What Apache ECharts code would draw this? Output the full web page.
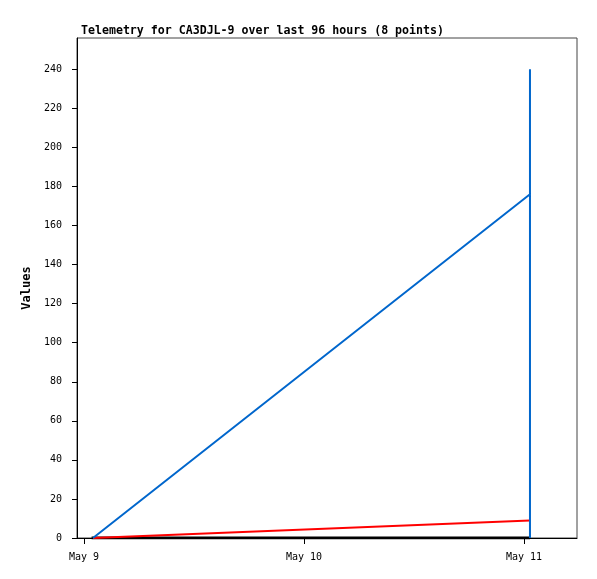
<!DOCTYPE html>
<html>
<head>
<meta charset="utf-8">
<script src="https://cdn.jsdelivr.net/npm/echarts@6/dist/echarts.min.js"></script>
<style>
  html, body { margin: 0; padding: 0; background: #fff; }
  #chart { width: 597px; height: 579px; }
</style>
</head>
<body>
<div id="chart"></div>
<script>
// telemetry samples, times in UTC
const dayStart = Date.UTC(2024, 4, 9)
const blueTimes = ['2024-05-09T00:59Z', '2024-05-11T00:39Z', '2024-05-11T00:39Z', '2024-05-11T00:39Z', '2024-05-11T00:39Z']
const blueValues = [0, 176, 240, 88, 0]
const redTimes = ['2024-05-09T00:59Z', '2024-05-11T00:39Z']
const redValues = [0, 9]
const blackTimes = ['2024-05-09T00:50Z', '2024-05-11T00:39Z']
const blackValues = [0, 0]
const dayLabels = ['May 9', 'May 10', 'May 11']
const yTicks = [0, 20, 40, 60, 80, 100, 120, 140, 160, 180, 200, 220, 240]

// hours since May 9 00:00
function hrs(t) {
  return (Date.parse(t) - dayStart) / 3600000
}
function pairs(times, values) {
  return times.map((t, i) => [hrs(t), values[i]])
}

const mono = 'DejaVu Sans Mono'
const chart = echarts.init(document.getElementById('chart'))
chart.setOption({
  animation: false,
  title: {
    text: 'Telemetry for CA3DJL-9 over last 96 hours (8 points)',
    left: 76,
    top: 20,
    textStyle: { fontFamily: mono, fontSize: 11.6, fontWeight: 'bold', color: '#000' }
  },
  grid: {
    left: 77,
    right: 20,
    top: 38,
    bottom: 41,
    show: true,
    borderColor: '#444',
    borderWidth: 1
  },
  xAxis: {
    type: 'value',
    min: -0.76,
    max: 53.78,
    splitLine: { show: false },
    axisLine: { onZero: false, lineStyle: { color: '#000', width: 1 } },
    axisTick: { customValues: [0, 24, 48], length: 6, lineStyle: { color: '#000' } },
    axisLabel: {
      customValues: [0, 24, 48],
      margin: 14,
      fontFamily: mono,
      fontSize: 10,
      color: '#000',
      formatter: v => dayLabels[Math.round(v / 24)]
    }
  },
  yAxis: {
    type: 'value',
    min: 0,
    max: 256,
    name: 'Values',
    nameLocation: 'middle',
    nameRotate: 90,
    nameGap: 39,
    nameTextStyle: { fontFamily: mono, fontSize: 12, fontWeight: 'bold', color: '#000' },
    splitLine: { show: false },
    axisLine: { show: true, onZero: false, lineStyle: { color: '#000', width: 1 } },
    axisTick: { customValues: yTicks, length: 5, lineStyle: { color: '#000' } },
    axisLabel: {
      customValues: yTicks,
      margin: 15,
      fontFamily: mono,
      fontSize: 10,
      color: '#000'
    }
  },
  series: [
    {
      type: 'line',
      data: pairs(blackTimes, blackValues),
      showSymbol: false,
      lineStyle: { color: '#000', width: 3 }
    },
    {
      type: 'line',
      data: pairs(redTimes, redValues),
      showSymbol: false,
      lineStyle: { color: '#ff0000', width: 2 }
    },
    {
      type: 'line',
      data: pairs(blueTimes, blueValues),
      showSymbol: false,
      lineStyle: { color: '#0066cc', width: 2 }
    }
  ]
})
</script>
</body>
</html>
